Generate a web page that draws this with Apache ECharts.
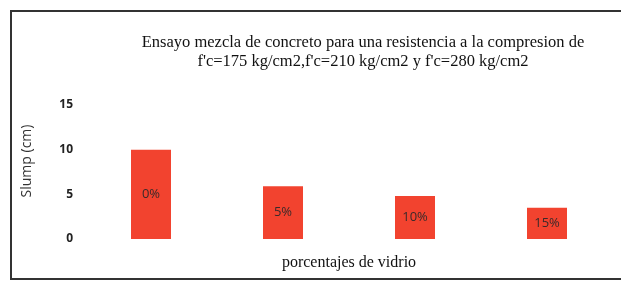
<!DOCTYPE html>
<html>
<head>
<meta charset="utf-8">
<script src="https://cdn.jsdelivr.net/npm/echarts@6/dist/echarts.min.js"></script>
<style>html,body{margin:0;padding:0;background:#fff}#c{width:621px;height:282px}</style>
</head>
<body>
<div id="c"></div>
<script>
const categories = ['0%', '5%', '10%', '15%'];
const slumpValues = [10, 5.9, 4.8, 3.5];
const yTicks = [0, 5, 10, 15];
const titleText = 'Ensayo mezcla de concreto para una resistencia a la compresion de\nf\'c=175 kg/cm2,f\'c=210 kg/cm2 y f\'c=280 kg/cm2';
const xName = 'porcentajes de vidrio';
const yName = 'Slump (cm)';

const chart = echarts.init(document.getElementById('c'));
chart.setOption({
  backgroundColor: '#fff',
  animation: false,
  title: {
    text: titleText,
    left: 358, top: 28, textAlign: 'center',
    textStyle: { fontFamily: 'Liberation Serif', fontSize: 16.5, fontWeight: 'normal', color: '#111', lineHeight: 19 }
  },
  graphic: [{
    type: 'rect', shape: { x: 11, y: 11, width: 640, height: 268 },
    style: { fill: 'none', stroke: '#333', lineWidth: 2 }, silent: true
  }],
  grid: { left: 85, right: 8, top: 105, bottom: 43 },
  xAxis: {
    type: 'category', data: categories,
    axisLine: { show: false }, axisTick: { show: false }, axisLabel: { show: false },
    name: xName, nameLocation: 'middle', nameGap: 16,
    nameTextStyle: { fontFamily: 'Liberation Serif', fontSize: 16, color: '#111' }
  },
  yAxis: {
    type: 'value', min: 0, max: 15, interval: 5,
    axisLine: { show: false }, axisTick: { show: false }, splitLine: { show: false },
    axisLabel: { margin: 12, fontFamily: 'Open Sans', fontWeight: 'bold', fontSize: 12, color: '#222',
      formatter: v => yTicks.includes(v) ? String(v) : '' },
    name: yName, nameLocation: 'middle', nameGap: 51,
    nameTextStyle: { fontFamily: 'Open Sans', fontSize: 14, color: '#333', padding: [0, 0, 0, 22] }
  },
  series: [{
    type: 'bar', data: slumpValues, barWidth: 40,
    itemStyle: { color: '#f2432f' },
    label: {
      show: true, position: 'inside', formatter: p => categories[p.dataIndex],
      fontFamily: 'Open Sans', fontSize: 13, color: '#3a2a2a'
    }
  }]
});
</script>
</body>
</html>
